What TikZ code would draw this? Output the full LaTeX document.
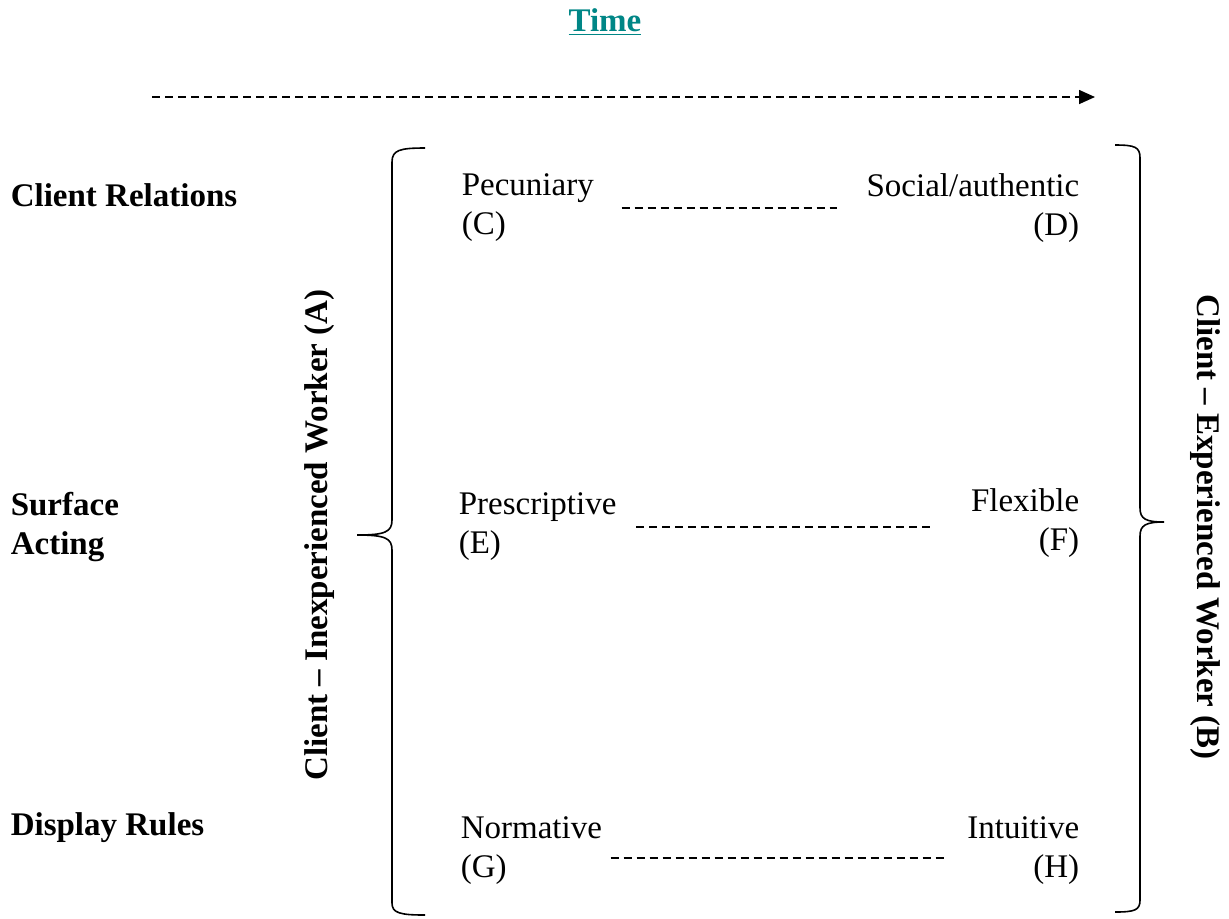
\documentclass[tikz,border=0pt]{standalone}
\usepackage{fontspec}
\setmainfont{Liberation Serif}
\usetikzlibrary{arrows.meta,calc}
\definecolor{timeteal}{RGB}{0,134,134}

\begin{document}
\begin{tikzpicture}
  [x=0.5pt, y=-0.5pt, line width=0.8pt,
   font=\fontsize{16.5pt}{19.5pt}\selectfont,
   lbl/.style={inner sep=0pt, font=\fontsize{16.5pt}{19.5pt}\selectfont\bfseries},
   txt/.style={inner sep=0pt},
   link/.style={dash pattern=on 4pt off 2.5pt}]
  \useasboundingbox (0, 0) rectangle (1229, 918);

  \node[lbl, text=timeteal] (time) at (605, 22) {\underline{Time}};
  \coordinate (t0) at (152, 97);
  \coordinate (t1) at (1095, 97);
  \draw[link, -{Triangle[length=8pt, width=7pt]}] (t0) -- (t1);

  \node[lbl, anchor=west] (cr) at (10, 195) {Client Relations};
  \node[lbl, anchor=west, align=left] (sa) at (10, 527) {Surface\\Acting};
  \node[lbl, anchor=west] (dr) at (10, 828) {Display Rules};

  \node[lbl, rotate=90] (inexp) at (320, 535) {Client – Inexperienced Worker (A)};
  \node[lbl, rotate=-90] (exper) at (1205, 527) {Client – Experienced Worker (B)};

  \node[txt, anchor=west, align=left] (pec) at (461, 208) {Pecuniary\\(C)};
  \node[txt, anchor=east, align=right] (soc) at (1080, 208) {Social/authentic\\(D)};
  \node[txt, anchor=west, align=left] (pre) at (458, 527) {Prescriptive\\(E)};
  \node[txt, anchor=east, align=right] (flex) at (1080, 523) {Flexible\\(F)};
  \node[txt, anchor=west, align=left] (norm) at (460, 851) {Normative\\(G)};
  \node[txt, anchor=east, align=right] (intu) at (1080, 851) {Intuitive\\(H)};

  \draw[link, shorten <=13.5pt, shorten >=14.5pt] (pec) -- (soc);
  \draw[link, shorten <=9.5pt, shorten >=19.5pt] (pre.east) -- (pre.east -| flex.west);
  \draw[link, shorten <=4pt, shorten >=10pt] ($(norm.east)+(0,7)$) -- ($(intu.west)+(0,7)$);

  % left brace
  \draw (425, 148) .. controls (400, 148) and (392, 150) .. (392, 162)
    -- (392, 520) .. controls (392, 532) and (385, 535) .. (357, 535)
    .. controls (385, 535) and (392, 538) .. (392, 550)
    -- (392, 903) .. controls (392, 913) and (400, 915) .. (425, 915);
  % right brace
  \draw (1115, 145) .. controls (1135, 145) and (1140, 147) .. (1140, 158)
    -- (1140, 508) .. controls (1140, 519) and (1146, 522) .. (1164, 522)
    .. controls (1146, 522) and (1140, 525) .. (1140, 536)
    -- (1140, 900) .. controls (1140, 910) and (1135, 912) .. (1115, 912);
\end{tikzpicture}
\end{document}
